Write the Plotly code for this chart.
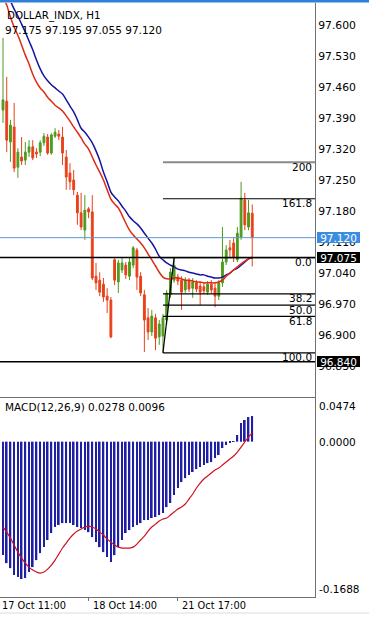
import plotly.graph_objects as go

FONT = "DejaVu Sans"

# ---------------- data ----------------
bars = list(range(68))
opens = [97.408, 97.428, 97.336, 97.370, 97.279, 97.302, 97.295, 97.313, 97.325, 97.313,
         97.313, 97.334, 97.347, 97.311, 97.349, 97.354, 97.347, 97.302, 97.266, 97.250,
         97.216, 97.176, 97.137, 97.185, 97.178, 97.033, 97.024, 97.015, 96.988, 96.979,
         97.070, 97.020, 97.047, 97.058, 97.033, 97.058, 97.092, 97.033, 96.991, 96.939,
         96.907, 96.939, 96.896, 96.898, 96.934, 96.991, 97.024, 97.031, 97.024, 97.002,
         97.022, 97.006, 97.018, 97.011, 97.009, 96.997, 97.015, 97.006, 96.988, 97.018,
         97.065, 97.097, 97.108, 97.070, 97.121, 97.205, 97.144, 97.175]
highs = [97.571, 97.483, 97.386, 97.424, 97.322, 97.347, 97.336, 97.340, 97.340, 97.322,
         97.340, 97.356, 97.354, 97.356, 97.367, 97.363, 97.370, 97.318, 97.288, 97.273,
         97.223, 97.221, 97.216, 97.189, 97.216, 97.063, 97.042, 97.029, 97.006, 96.986,
         97.074, 97.070, 97.074, 97.065, 97.074, 97.101, 97.097, 97.042, 97.002, 96.961,
         96.957, 96.948, 96.934, 96.948, 97.002, 97.051, 97.075, 97.038, 97.033, 97.031,
         97.029, 97.029, 97.024, 97.020, 97.018, 97.022, 97.024, 97.018, 97.024, 97.144,
         97.103, 97.115, 97.119, 97.144, 97.246, 97.221, 97.205, 97.195]
lows = [97.379, 97.313, 97.291, 97.268, 97.255, 97.284, 97.284, 97.302, 97.295, 97.300,
        97.304, 97.327, 97.307, 97.307, 97.345, 97.340, 97.284, 97.228, 97.228, 97.216,
        97.149, 97.137, 97.115, 97.164, 97.024, 97.002, 96.988, 96.975, 96.950, 96.893,
        97.013, 96.995, 97.040, 97.027, 97.024, 97.051, 97.002, 96.988, 96.862, 96.889,
        96.898, 96.866, 96.878, 96.860, 96.923, 96.984, 97.018, 97.013, 96.957, 96.995,
        96.997, 96.984, 96.997, 96.968, 96.993, 96.991, 96.995, 96.963, 96.979, 97.009,
        97.058, 97.074, 97.065, 97.065, 97.115, 97.137, 97.137, 97.055]
closes = [97.431, 97.340, 97.374, 97.277, 97.313, 97.293, 97.313, 97.325, 97.300, 97.309,
          97.334, 97.349, 97.311, 97.352, 97.358, 97.349, 97.311, 97.257, 97.246, 97.228,
          97.176, 97.144, 97.182, 97.178, 97.029, 97.018, 96.997, 96.986, 96.979, 96.896,
          97.024, 97.063, 97.063, 97.036, 97.065, 97.097, 97.031, 96.995, 96.934, 96.907,
          96.943, 96.893, 96.925, 96.939, 96.995, 97.042, 97.058, 97.022, 96.997, 97.024,
          97.004, 97.020, 97.004, 96.997, 97.000, 97.015, 97.002, 96.988, 97.018, 97.065,
          97.092, 97.092, 97.076, 97.130, 97.209, 97.149, 97.176, 97.120]

ma_red = [97.663, 97.645, 97.618, 97.595, 97.577, 97.555, 97.532, 97.512, 97.489, 97.471,
          97.458, 97.449, 97.437, 97.428, 97.419, 97.413, 97.406, 97.395, 97.383, 97.370,
          97.358, 97.345, 97.331, 97.320, 97.302, 97.284, 97.268, 97.250, 97.228, 97.207,
          97.196, 97.187, 97.171, 97.153, 97.137, 97.126, 97.117, 97.108, 97.097, 97.083,
          97.070, 97.056, 97.042, 97.031, 97.027, 97.027, 97.029, 97.029, 97.027, 97.024,
          97.024, 97.022, 97.020, 97.020, 97.018, 97.018, 97.018, 97.018, 97.020, 97.024,
          97.033, 97.040, 97.047, 97.054, 97.061, 97.067, 97.072, 97.076]
ma_blue = [97.690, 97.670, 97.654, 97.636, 97.620, 97.602, 97.584, 97.564, 97.544, 97.521,
           97.501, 97.485, 97.474, 97.465, 97.458, 97.451, 97.444, 97.431, 97.417, 97.404,
           97.386, 97.367, 97.358, 97.347, 97.334, 97.316, 97.295, 97.268, 97.246, 97.223,
           97.212, 97.203, 97.191, 97.180, 97.167, 97.158, 97.151, 97.142, 97.130, 97.119,
           97.108, 97.094, 97.078, 97.070, 97.063, 97.058, 97.054, 97.049, 97.047, 97.045,
           97.042, 97.040, 97.038, 97.036, 97.036, 97.033, 97.031, 97.029, 97.029, 97.031,
           97.036, 97.040, 97.047, 97.051, 97.058, 97.065, 97.072, 97.074]

macd_hist = [-0.1233, -0.1320, -0.1374, -0.1450, -0.1472, -0.1493, -0.1482, -0.1417, -0.1363, -0.1287,
             -0.1211, -0.1146, -0.1069, -0.0993, -0.0928, -0.0906, -0.0885, -0.0885, -0.0885, -0.0906,
             -0.0928, -0.0939, -0.0961, -0.0983, -0.1037, -0.1091, -0.1146, -0.1200, -0.1254, -0.1309,
             -0.1233, -0.1146, -0.1069, -0.0993, -0.0961, -0.0928, -0.0906, -0.0885, -0.0852, -0.0852,
             -0.0830, -0.0819, -0.0798, -0.0776, -0.0711, -0.0667, -0.0580, -0.0504, -0.0439, -0.0396,
             -0.0363, -0.0330, -0.0298, -0.0276, -0.0254, -0.0233, -0.0222, -0.0178, -0.0146, -0.0069,
             -0.0037, -0.0015, -0.0004, 0.0072, 0.0202, 0.0235, 0.0267, 0.0278]
macd_signal = [-0.0928, -0.0983, -0.1048, -0.1124, -0.1200, -0.1265, -0.1320, -0.1363, -0.1396, -0.1417,
               -0.1428, -0.1417, -0.1385, -0.1341, -0.1287, -0.1222, -0.1156, -0.1102, -0.1048, -0.1004,
               -0.0972, -0.0950, -0.0928, -0.0917, -0.0928, -0.0950, -0.0983, -0.1015, -0.1059, -0.1091,
               -0.1124, -0.1146, -0.1156, -0.1156, -0.1156, -0.1146, -0.1113, -0.1069, -0.1026, -0.0972,
               -0.0928, -0.0896, -0.0863, -0.0841, -0.0830, -0.0798, -0.0765, -0.0733, -0.0711, -0.0678,
               -0.0624, -0.0569, -0.0504, -0.0450, -0.0406, -0.0374, -0.0341, -0.0309, -0.0287, -0.0254,
               -0.0222, -0.0189, -0.0156, -0.0113, -0.0059, -0.0004, 0.0050, 0.0096]

price_ticks = [97.600, 97.530, 97.460, 97.390, 97.320, 97.250, 97.180, 97.110,
               97.040, 96.970, 96.900, 96.830]
macd_ticks = [0.0474, 0.0000, -0.1688]
time_bars = [0, 23, 47]
time_labels = ["17 Oct 11:00", "18 Oct 14:00", "21 Oct 17:00"]

fib_low, fib_high = 96.860, 97.075
fib_bar_low, fib_bar_high = 43, 46
fib_ratios = [0.0, 0.382, 0.5, 0.618, 1.0, 1.618, 2.0]
fib_labels = ["0.0", "38.2", "50.0", "61.8", "100.0", "161.8", "200"]

bid_price = 97.120
hline_prices = [97.075, 96.840]

title_text = "DOLLAR_INDX, H1"
ohlc_text = "97.175 97.195 97.055 97.120"
macd_text = "MACD(12,26,9) 0.0278 0.0096"

# ---------------- layout geometry ----------------
W, H = 369, 625
PL, PR, PT, PB = 0, 315, 3, 597          # plot area in px
x_range = [-0.806, 83.87]
price_range = [96.7603, 97.6497]
macd_range = [macd_ticks[2], macd_ticks[0]]


def py(ypx):
    return (PB - ypx) / (PB - PT)


def px(xpx):
    return (xpx - PL) / (PR - PL)


GREEN = "#4d9a1e"
RED = "#e8401a"
AXIS = "#707070"

fig = go.Figure()

fig.add_trace(go.Candlestick(
    x=bars, open=opens, high=highs, low=lows, close=closes,
    increasing=dict(line=dict(color=GREEN, width=1), fillcolor=GREEN),
    decreasing=dict(line=dict(color=RED, width=1), fillcolor=RED),
    whiskerwidth=0, xaxis="x", yaxis="y", hoverinfo="skip"))
fig.add_trace(go.Scatter(x=bars, y=ma_blue, mode="lines",
                         line=dict(color="#1515a0", width=1.5, shape="spline"),
                         xaxis="x", yaxis="y", hoverinfo="skip"))
fig.add_trace(go.Scatter(x=bars, y=ma_red, mode="lines",
                         line=dict(color="#e02a14", width=1.5, shape="spline"),
                         xaxis="x", yaxis="y", hoverinfo="skip"))

fig.add_trace(go.Bar(x=bars, y=macd_hist, width=0.45,
                     marker=dict(color="#1f1fa6", line=dict(width=0)),
                     xaxis="x2", yaxis="y2", hoverinfo="skip"))
fig.add_trace(go.Scatter(x=bars, y=macd_signal, mode="lines",
                         line=dict(color="#d0101e", width=1.2, shape="spline"),
                         xaxis="x2", yaxis="y2", hoverinfo="skip"))

shapes = []
annotations = []

# horizontal price lines
shapes.append(dict(type="line", xref="paper", yref="y", x0=0, x1=1,
                   y0=bid_price, y1=bid_price, line=dict(color="#5b9bd8", width=1)))
for hp in hline_prices:
    shapes.append(dict(type="line", xref="paper", yref="y", x0=0, x1=1,
                       y0=hp, y1=hp, line=dict(color="black", width=1.5)))

# fibonacci
rng = fib_high - fib_low
for r, lab in zip(fib_ratios, fib_labels):
    level = fib_high - r * rng if r <= 1 else fib_low + r * rng
    col = "#8a8a8a" if r == 2.0 else "black"
    wid = 2 if r == 2.0 else 1.2
    shapes.append(dict(type="line", xref="x", yref="y", x0=fib_bar_low, x1=x_range[1],
                       y0=level, y1=level, line=dict(color=col, width=wid)))
    annotations.append(dict(text=lab, xref="paper", yref="y", x=px(313.5), y=level,
                            xanchor="right", yanchor="middle", yshift=-4.5, showarrow=False,
                            font=dict(family=FONT, size=10.5, color="black")))
shapes.append(dict(type="line", xref="x", yref="y", x0=fib_bar_low, x1=fib_bar_high,
                   y0=fib_low, y1=fib_high, line=dict(color="black", width=1.2)))

# top app bar edge and bottom separator
shapes.append(dict(type="rect", xref="paper", yref="paper", x0=-0.01, x1=px(W + 2),
                   y0=py(2.5), y1=py(-2), line=dict(width=0), fillcolor="#2f80d8"))
shapes.append(dict(type="line", xref="paper", yref="paper", x0=-0.01, x1=px(W + 2),
                   y0=py(613), y1=py(613), line=dict(color="#dcdcdc", width=1)))

# price tags
tags = [(bid_price, "#3a8de0"), (hline_prices[0], "black"), (hline_prices[1], "black")]
for val, col in tags:
    annotations.append(dict(text=f"{val:.3f}", xref="paper", yref="y", x=px(317), y=val,
                            xanchor="left", yanchor="middle", width=43, height=11,
                            bgcolor=col, borderpad=0, borderwidth=0, showarrow=False,
                            font=dict(family=FONT, size=10.5, color="white")))

# MACD scale labels
for val, anch in zip(macd_ticks, ["top", "middle", "bottom"]):
    annotations.append(dict(text=f"{val:.4f}", xref="paper", yref="y2", x=px(317), y=val,
                            xanchor="left", yanchor=anch, showarrow=False,
                            font=dict(family=FONT, size=10.5, color="black")))

# time labels
for b, lab, sh in zip(time_bars, time_labels, [-3, 2, 2]):
    annotations.append(dict(text=lab, xref="x2", yref="paper", x=b, y=py(605.5),
                            xanchor="left", yanchor="middle", xshift=sh, showarrow=False,
                            font=dict(family=FONT, size=9.8, color="black")))

# header texts
annotations.append(dict(text=title_text, xref="paper", yref="paper", x=px(5), y=py(16),
                        xanchor="left", yanchor="middle", showarrow=False,
                        font=dict(family=FONT, size=10.3, color="black")))
annotations.append(dict(text=ohlc_text, xref="paper", yref="paper", x=px(3), y=py(30.5),
                        xanchor="left", yanchor="middle", showarrow=False,
                        font=dict(family=FONT, size=10.5, color="black")))
annotations.append(dict(text=macd_text, xref="paper", yref="paper", x=px(3), y=py(407),
                        xanchor="left", yanchor="middle", showarrow=False,
                        font=dict(family=FONT, size=10.5, color="black")))

price_dom = [py(397), 1]
macd_dom = [0, py(398)]

fig.update_layout(
    width=W, height=H,
    margin=dict(l=PL, r=W - PR, t=PT, b=H - PB),
    paper_bgcolor="white", plot_bgcolor="white",
    showlegend=False,
    shapes=shapes, annotations=annotations,
    xaxis=dict(domain=[0, 1], range=x_range, anchor="y", showline=True, linecolor=AXIS,
               linewidth=1, showticklabels=False, ticks="", showgrid=False, zeroline=False,
               rangeslider=dict(visible=False), fixedrange=True),
    xaxis2=dict(domain=[0, 1], range=x_range, anchor="y2", matches="x", showline=True,
                mirror=True, linecolor=AXIS, linewidth=1, showticklabels=False,
                ticks="outside", ticklen=3, tickcolor=AXIS, tickvals=time_bars[1:],
                showgrid=False, zeroline=False),
    yaxis=dict(domain=price_dom, range=price_range, anchor="x", side="right",
               showline=True, mirror=True, linecolor=AXIS, linewidth=1,
               tickvals=price_ticks, ticktext=[f"{v:.3f}" for v in price_ticks],
               ticks="", tickfont=dict(family=FONT, size=10.8, color="black"),
               showgrid=False, zeroline=False),
    yaxis2=dict(domain=macd_dom, range=macd_range, anchor="x2", side="right",
                showline=True, mirror=True, linecolor=AXIS, linewidth=1,
                showticklabels=False, ticks="", showgrid=False, zeroline=False),
)

fig.write_html("out.html")
